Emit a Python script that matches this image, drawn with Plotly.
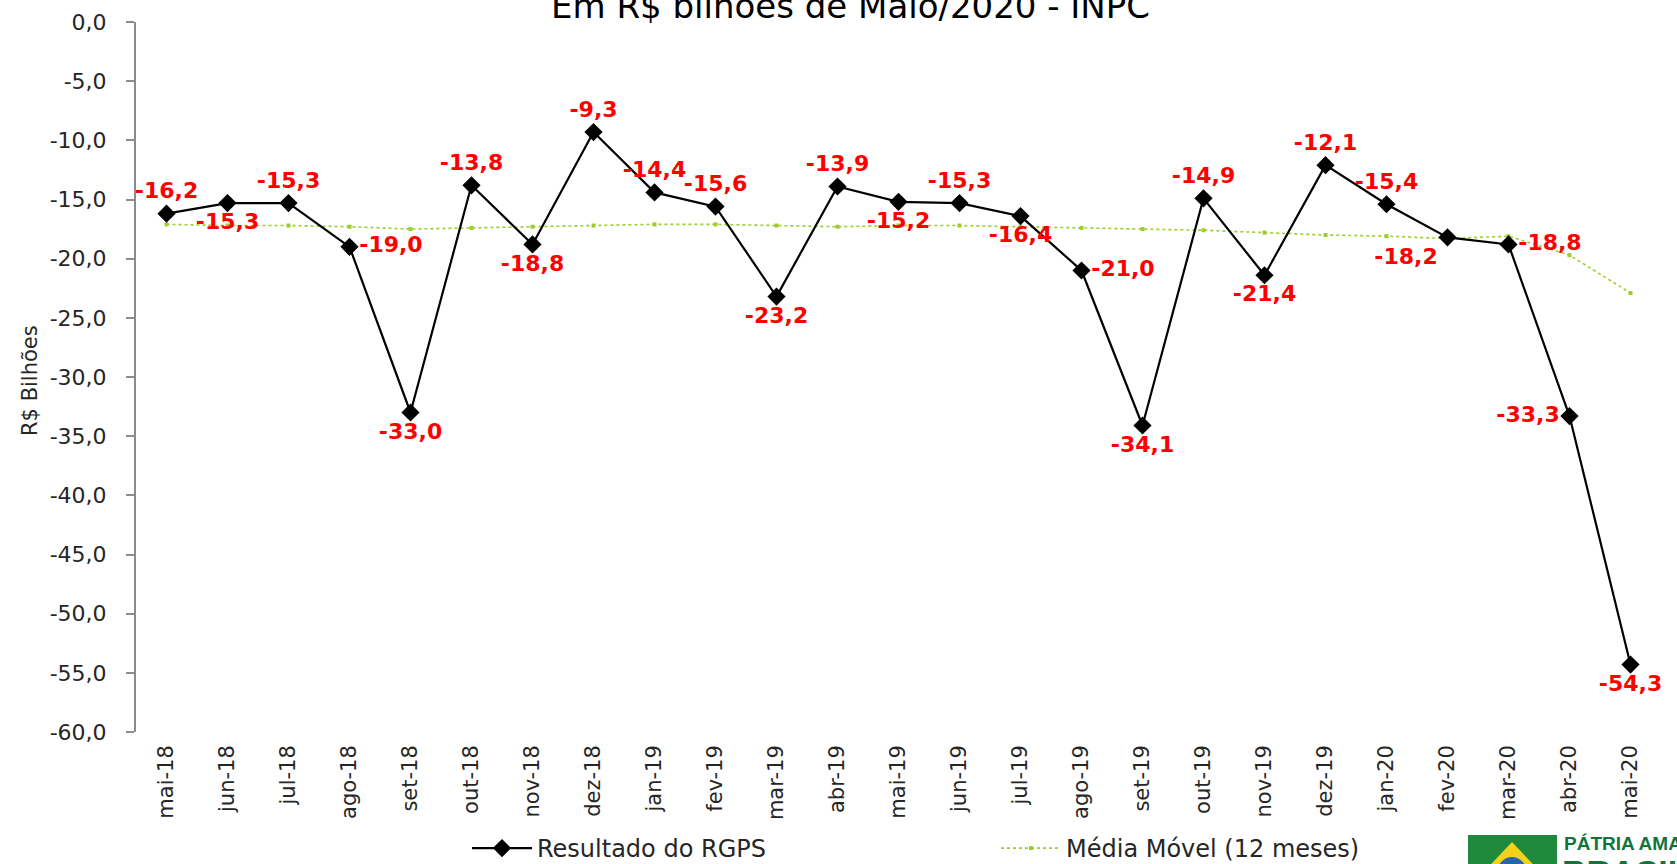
import plotly.graph_objects as go

# ---------------- data ----------------
months = ["mai-18", "jun-18", "jul-18", "ago-18", "set-18", "out-18", "nov-18", "dez-18",
          "jan-19", "fev-19", "mar-19", "abr-19", "mai-19", "jun-19", "jul-19", "ago-19",
          "set-19", "out-19", "nov-19", "dez-19", "jan-20", "fev-20", "mar-20", "abr-20", "mai-20"]

resultado_rgps = [-16.2, -15.3, -15.3, -19.0, -33.0, -13.8, -18.8, -9.3,
                  -14.4, -15.6, -23.2, -13.9, -15.2, -15.3, -16.4, -21.0,
                  -34.1, -14.9, -21.4, -12.1, -15.4, -18.2, -18.8, -33.3, -54.3]

media_movel = [-17.1, -17.2, -17.2, -17.3, -17.5, -17.4, -17.3, -17.2,
               -17.1, -17.1, -17.2, -17.3, -17.2, -17.2, -17.3, -17.4,
               -17.5, -17.6, -17.8, -18.0, -18.1, -18.3, -18.1, -19.7, -22.9]

label_positions = ["top center", "bottom center", "top center", "middle right", "bottom center",
                   "top center", "bottom center", "top center", "top center", "top center",
                   "bottom center", "top center", "bottom center", "top center", "bottom center",
                   "middle right", "bottom center", "top center", "bottom center", "top center",
                   "top center", "bottom left", "middle right", "middle left", "bottom center"]

ytick_vals = [0, -5, -10, -15, -20, -25, -30, -35, -40, -45, -50, -55, -60]
ytick_text = ["0,0", "-5,0", "-10,0", "-15,0", "-20,0", "-25,0", "-30,0", "-35,0",
              "-40,0", "-45,0", "-50,0", "-55,0", "-60,0"]

title_text = "Em R$ bilhões de Maio/2020 - INPC"
yaxis_title = "R$ Bilhões"
name_main = "Resultado do RGPS"
name_ma = "Média Móvel (12 meses)"

# ---------------- layout helpers (pixel -> paper) ----------------
W, H = 1677, 864
L, R, T, B = 136, 16, 22, 132
PW, PH = W - L - R, H - T - B


def px_x(px):
    return (px - L) / PW


def px_y(py):
    return (H - B - py) / PH


labels = [f"{v:.1f}".replace(".", ",") for v in resultado_rgps]

fig = go.Figure()

fig.add_trace(go.Scatter(
    x=months, y=media_movel, name=name_ma, mode="lines+markers",
    line=dict(color="#9ccc2e", width=1.6, dash="dot"),
    marker=dict(symbol="square", size=4, color="#9ccc2e"),
    legendrank=2, hoverinfo="skip",
))

fig.add_trace(go.Scatter(
    x=months, y=resultado_rgps, name=name_main, mode="lines+markers+text",
    line=dict(color="#000000", width=2.2),
    marker=dict(symbol="diamond", size=14, color="#000000"),
    text=labels, textposition=label_positions,
    textfont=dict(family="DejaVu Sans", size=22, color="#ff0000", weight="bold"),
    cliponaxis=False, legendrank=1,
))

fig.update_layout(
    width=W, height=H,
    margin=dict(l=L, r=R, t=T, b=B, pad=0, autoexpand=False),
    paper_bgcolor="white", plot_bgcolor="white",
    font=dict(family="DejaVu Sans", color="#262626"),
    showlegend=True,
    legend=dict(orientation="h", x=px_x(467), xanchor="left", y=px_y(826), yanchor="top",
                font=dict(family="DejaVu Sans", size=24, color="#262626"),
                itemwidth=60, entrywidth=454, bgcolor="rgba(0,0,0,0)"),
    xaxis=dict(type="category", range=[-0.5, 24.5], showline=False, showgrid=False,
               zeroline=False, ticks="", tickangle=-90, ticklabelstandoff=8,
               tickfont=dict(family="DejaVu Sans", size=21, color="#262626")),
    yaxis=dict(range=[-60, 0], tickvals=ytick_vals, ticktext=ytick_text,
               showline=True, linecolor="#8c8c8c", linewidth=2,
               ticks="outside", ticklen=8, tickwidth=1.5, tickcolor="#8c8c8c",
               showgrid=False, zeroline=False, ticklabelstandoff=15,
               tickfont=dict(family="DejaVu Sans", size=22, color="#262626")),
)

# title (partly cut at the top of the image)
fig.add_annotation(text=title_text, xref="paper", yref="paper", x=px_x(850), y=px_y(28),
                   xanchor="center", yanchor="bottom", showarrow=False,
                   font=dict(family="DejaVu Sans", size=34, color="#000000"))

# y axis title
fig.add_annotation(text=yaxis_title, xref="paper", yref="paper", x=px_x(30), y=px_y(381),
                   xanchor="center", yanchor="middle", textangle=-90, showarrow=False,
                   font=dict(family="DejaVu Sans", size=21, color="#262626"))

# logo in the bottom-right corner
fig.add_shape(type="rect", xref="paper", yref="paper",
              x0=px_x(1468), x1=px_x(1557), y0=px_y(880), y1=px_y(835),
              fillcolor="#1f8a3b", line=dict(width=0), layer="above")
fig.add_shape(type="path", xref="paper", yref="paper",
              path=f"M {px_x(1512)} {px_y(842)} L {px_x(1476)} {px_y(880)} L {px_x(1548)} {px_y(880)} Z",
              fillcolor="#f2d21b", line=dict(width=0), layer="above")
fig.add_shape(type="circle", xref="paper", yref="paper",
              x0=px_x(1497), x1=px_x(1527), y0=px_y(890), y1=px_y(857),
              fillcolor="#2a66b0", line=dict(width=0), layer="above")
fig.add_annotation(text="<b>PÁTRIA AMADA</b>", xref="paper", yref="paper",
                   x=px_x(1562), y=px_y(831), xanchor="left", yanchor="top", showarrow=False,
                   font=dict(family="Liberation Sans Narrow, Liberation Sans", size=19, color="#13743a"))
fig.add_annotation(text="<b>BRASIL</b>", xref="paper", yref="paper",
                   x=px_x(1560), y=px_y(851), xanchor="left", yanchor="top", showarrow=False,
                   font=dict(family="Liberation Sans", size=34, color="#13743a"))

fig.write_html("out.html", config={"displayModeBar": False},
               post_script="document.body.style.margin='0px';document.body.style.overflow='hidden';")
